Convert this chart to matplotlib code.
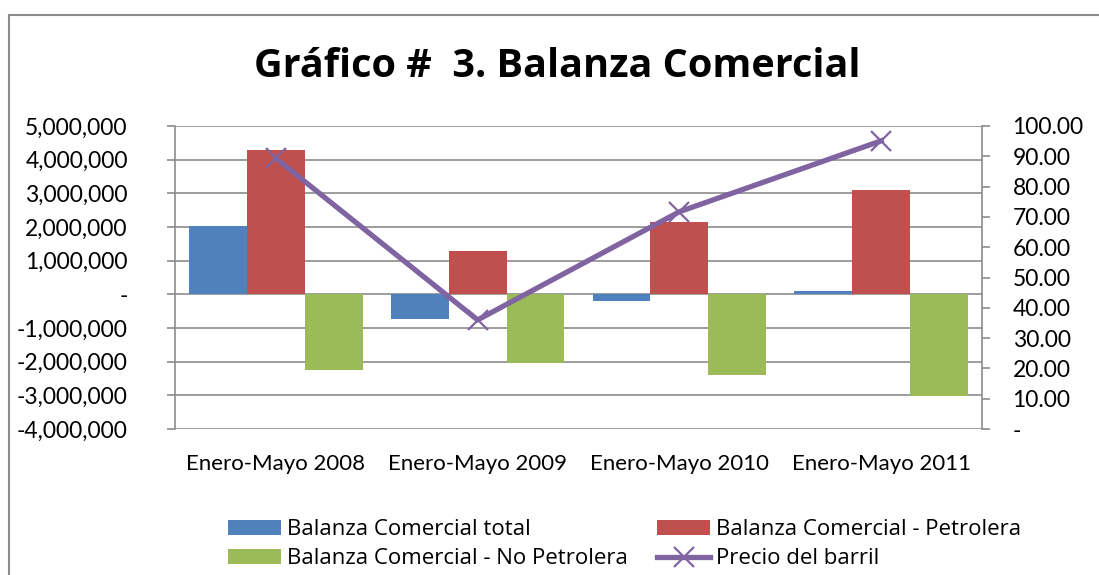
#!/usr/bin/env python3

import numpy as np
import matplotlib
matplotlib.use("Agg")
import matplotlib.pyplot as plt
from matplotlib.patches import Rectangle
from matplotlib.ticker import FuncFormatter, MultipleLocator

plt.rcParams['font.family'] = ['Lato', 'DejaVu Sans']

# Data
periods = ['Enero-Mayo 2008', 'Enero-Mayo 2009', 'Enero-Mayo 2010', 'Enero-Mayo 2011']
total = [2020000, -730000, -210000, 110000]
petrolera = [4290000, 1290000, 2160000, 3110000]
no_petrolera = [-2260000, -2030000, -2410000, -3010000]
precio = [89.3, 36.0, 71.7, 95.1]

series_names = ['Balanza Comercial total', 'Balanza Comercial - Petrolera',
                'Balanza Comercial - No Petrolera', 'Precio del barril']

blue = '#4F81BD'
red = '#C0504D'
green = '#9BBB59'
purple = '#8064A2'
grid_gray = '#8C8C8C'

fig = plt.figure(figsize=(10.99, 5.75), dpi=100)
ax = fig.add_axes([175 / 1099, 1 - 429 / 575, (982 - 175) / 1099, (429 - 126) / 575])

x = np.arange(len(periods))
w = 0.287
ax.bar(x - w, total, w, color=blue, label=series_names[0], zorder=2)
ax.bar(x, petrolera, w, color=red, label=series_names[1], zorder=2)
ax.bar(x + w, no_petrolera, w, color=green, label=series_names[2], zorder=2)

ax.set_xlim(-0.5, len(periods) - 0.5)
ax.set_ylim(-4000000, 5000000)
ax.yaxis.set_major_locator(MultipleLocator(1000000))


def left_fmt(v, pos):
    if abs(v) < 1:
        return '-'
    return f'{v:,.0f}'


ax.yaxis.set_major_formatter(FuncFormatter(left_fmt))
ax.grid(axis='y', color=grid_gray, linewidth=1.2, zorder=0)
ax.set_axisbelow(True)
ax.set_xticks(x)
ax.set_xticklabels(periods, fontsize=16)
ax.tick_params(axis='x', length=0, pad=18)
ax.tick_params(axis='y', labelsize=16.5, length=6, width=1.2, color=grid_gray, pad=28)
for s in ['top', 'right', 'bottom']:
    ax.spines[s].set_visible(False)
ax.spines['left'].set_color(grid_gray)
ax.spines['left'].set_linewidth(1.2)

ax2 = ax.twinx()
ax2.plot(x, precio, color=purple, linewidth=3.8, marker='x', markersize=15,
         markeredgewidth=1.6, label=series_names[3], zorder=3)
ax2.set_ylim(0, 100)
ax2.yaxis.set_major_locator(MultipleLocator(10))


def right_fmt(v, pos):
    if abs(v) < 1e-9:
        return '-'
    return f'{v:.2f}'


ax2.yaxis.set_major_formatter(FuncFormatter(right_fmt))
ax2.tick_params(axis='y', labelsize=16.5, length=6, width=1.2, color=grid_gray, pad=16)
for s in ['top', 'left', 'bottom']:
    ax2.spines[s].set_visible(False)
ax2.spines['right'].set_color(grid_gray)
ax2.spines['right'].set_linewidth(1.2)

# Title
fig.text(557 / 1099, 1 - 67 / 575, 'Gráfico #  3. Balanza Comercial', fontsize=28.5,
         fontweight='bold', family=['Open Sans', 'DejaVu Sans'], ha='center', va='center')

# Legend (column-first fill, so order gives rows: total/petrolera, no petrolera/precio)
h1, l1 = ax.get_legend_handles_labels()
h2, l2 = ax2.get_legend_handles_labels()
handles = [h1[0], h1[2], h1[1], h2[0]]
labels = [l1[0], l1[2], l1[1], l2[0]]
fig.legend(handles, labels, ncol=2, loc='upper left', bbox_to_anchor=(228 / 1099, 1 - 519 / 575),
           frameon=False, prop={'family': ['Open Sans', 'DejaVu Sans'], 'size': 16},
           handlelength=2.4, handleheight=0.68, handletextpad=0.27,
           columnspacing=1.3, labelspacing=0.38, borderpad=0, borderaxespad=0)

# Chart border
fig.patches.append(Rectangle((9 / 1099, -0.1), 1.2, 1 - 15 / 575 + 0.1,
                             transform=fig.transFigure, fill=False,
                             edgecolor='#8C8C8C', linewidth=1.5))

plt.savefig('out.png', dpi=100)
